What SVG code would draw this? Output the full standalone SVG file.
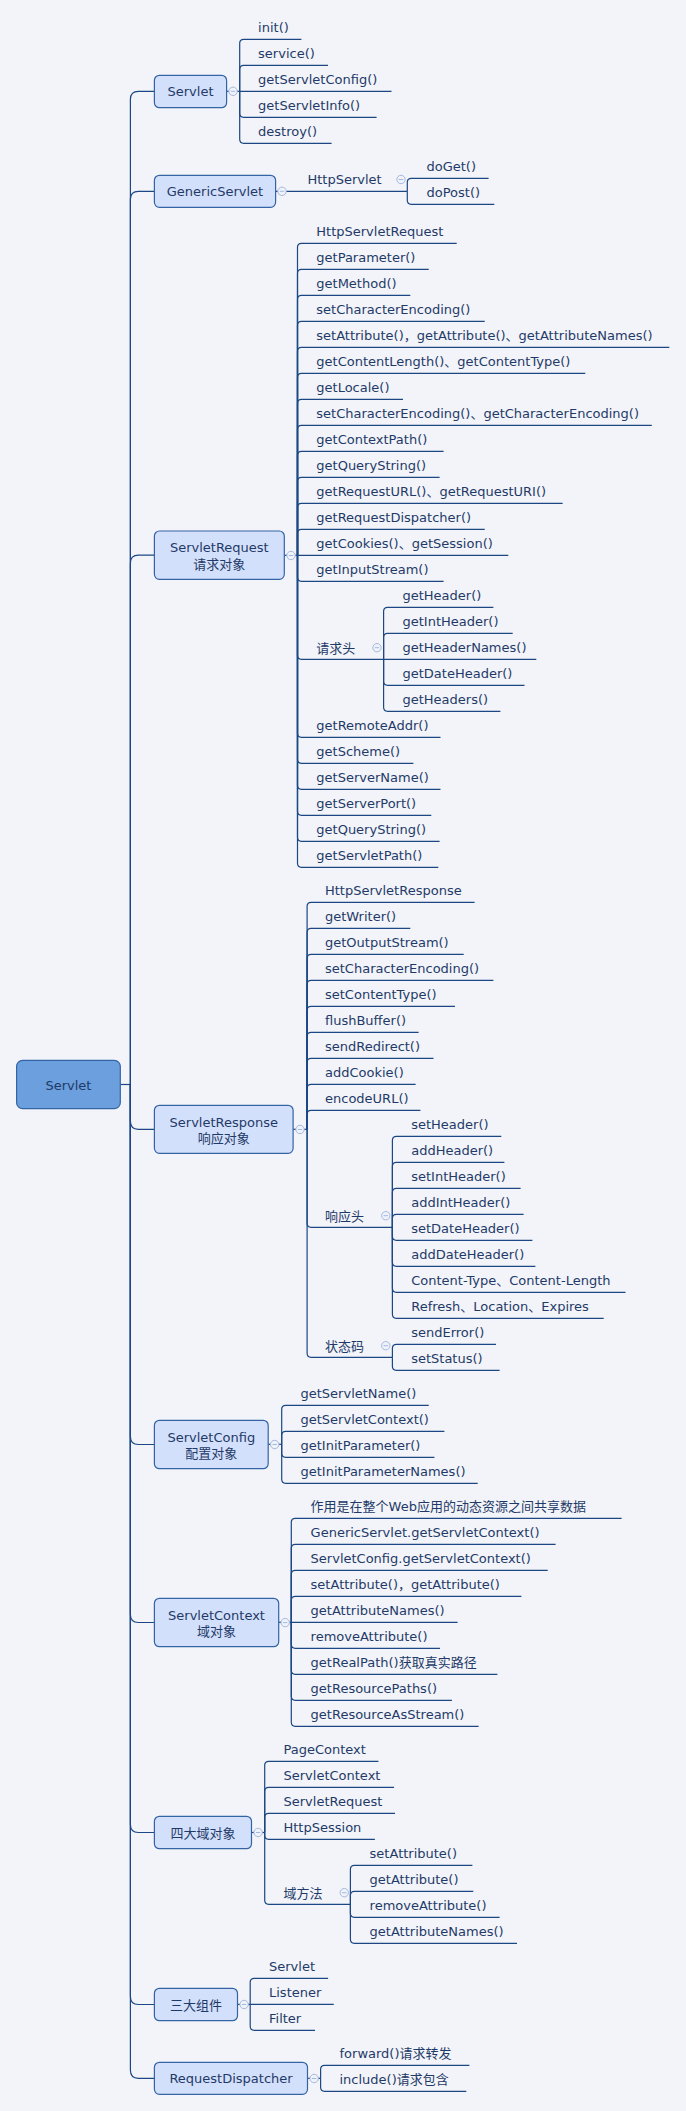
<svg xmlns="http://www.w3.org/2000/svg" width="686" height="2111" viewBox="0 0 686 2111">
<defs>
<style>
.t{font-family:"DejaVu Sans","Noto Sans CJK SC",sans-serif;font-size:13px;fill:#1f3a68}
.m{text-anchor:middle}
.c{fill:none;stroke:#1c4784;stroke-width:1.2}
.box{fill:#d3e0fb;stroke:#3464a4;stroke-width:1.2}
.root{fill:#6b9fdd;stroke:#3464a4;stroke-width:1.2}
</style>
<g id="col"><circle r="4.2" fill="#eef2fb" stroke="#a8b8dc" stroke-width="1"/><line x1="-2.2" x2="2.2" y1="0" y2="0" stroke="#a8b8dc" stroke-width="1"/></g>
</defs>
<rect width="686" height="2111" fill="#f2f4f9"/>
<g id="connectors">
<path class="c" d="M120.3,1084.5 H130.4"/>
<path class="c" d="M130.4,1084.5 V99.3 Q130.4,91.3 138.4,91.3 H154.4"/>
<path class="c" d="M130.4,1084.5 V199.3 Q130.4,191.3 138.4,191.3 H154.4"/>
<path class="c" d="M130.4,1084.5 V563.2 Q130.4,555.2 138.4,555.2 H154.4"/>
<path class="c" d="M130.4,1084.5 V1121.3 Q130.4,1129.3 138.4,1129.3 H154.4"/>
<path class="c" d="M130.4,1084.5 V1436.5 Q130.4,1444.5 138.4,1444.5 H154.4"/>
<path class="c" d="M130.4,1084.5 V1614.5 Q130.4,1622.5 138.4,1622.5 H154.4"/>
<path class="c" d="M130.4,1084.5 V1824.5 Q130.4,1832.5 138.4,1832.5 H154.4"/>
<path class="c" d="M130.4,1084.5 V1996.5 Q130.4,2004.5 138.4,2004.5 H154.4"/>
<path class="c" d="M130.4,1084.5 V2070.3 Q130.4,2078.3 138.4,2078.3 H154.4"/>
<!-- Servlet -->
<path class="c" d="M226.6,91.3 H239.7"/>
<path class="c" d="M239.7,91.3 V43.3 Q239.7,39.3 243.7,39.3 H301.4"/>
<path class="c" d="M239.7,91.3 V69.3 Q239.7,65.3 243.7,65.3 H328"/>
<path class="c" d="M239.7,91.3 H391.5"/>
<path class="c" d="M239.7,91.3 V113.3 Q239.7,117.3 243.7,117.3 H376.6"/>
<path class="c" d="M239.7,91.3 V139.3 Q239.7,143.3 243.7,143.3 H331.6"/>
<!-- GenericServlet -->
<path class="c" d="M275.6,191.3 H407.3"/>
<path class="c" d="M407.3,191.3 V182.3 Q407.3,178.3 411.3,178.3 H488.6"/>
<path class="c" d="M407.3,191.3 V200.3 Q407.3,204.3 411.3,204.3 H494.3"/>
<!-- ServletRequest -->
<path class="c" d="M284.3,555.3 H297.5"/>
<path class="c" d="M297.5,555.3 V247.3 Q297.5,243.3 301.5,243.3 H456.7"/>
<path class="c" d="M297.5,555.3 V273.3 Q297.5,269.3 301.5,269.3 H428.7"/>
<path class="c" d="M297.5,555.3 V299.3 Q297.5,295.3 301.5,295.3 H410.3"/>
<path class="c" d="M297.5,555.3 V325.3 Q297.5,321.3 301.5,321.3 H484.7"/>
<path class="c" d="M297.5,555.3 V351.3 Q297.5,347.3 301.5,347.3 H669.3"/>
<path class="c" d="M297.5,555.3 V377.3 Q297.5,373.3 301.5,373.3 H585.3"/>
<path class="c" d="M297.5,555.3 V403.3 Q297.5,399.3 301.5,399.3 H403"/>
<path class="c" d="M297.5,555.3 V429.3 Q297.5,425.3 301.5,425.3 H651.8"/>
<path class="c" d="M297.5,555.3 V455.3 Q297.5,451.3 301.5,451.3 H443.6"/>
<path class="c" d="M297.5,555.3 V481.3 Q297.5,477.3 301.5,477.3 H439.6"/>
<path class="c" d="M297.5,555.3 V507.3 Q297.5,503.3 301.5,503.3 H562.6"/>
<path class="c" d="M297.5,555.3 V533.3 Q297.5,529.3 301.5,529.3 H484.7"/>
<path class="c" d="M297.5,555.3 H508.3"/>
<path class="c" d="M297.5,555.3 V577.3 Q297.5,581.3 301.5,581.3 H443.6"/>
<path class="c" d="M297.5,555.3 V655.3 Q297.5,659.3 301.5,659.3 H383.6"/>
<path class="c" d="M297.5,555.3 V733.3 Q297.5,737.3 301.5,737.3 H440.5"/>
<path class="c" d="M297.5,555.3 V759.3 Q297.5,763.3 301.5,763.3 H413.4"/>
<path class="c" d="M297.5,555.3 V785.3 Q297.5,789.3 301.5,789.3 H440.5"/>
<path class="c" d="M297.5,555.3 V811.3 Q297.5,815.3 301.5,815.3 H431.3"/>
<path class="c" d="M297.5,555.3 V837.3 Q297.5,841.3 301.5,841.3 H439.6"/>
<path class="c" d="M297.5,555.3 V863.3 Q297.5,867.3 301.5,867.3 H438.3"/>
<path class="c" d="M383.6,659.3 V611.3 Q383.6,607.3 387.6,607.3 H493.4"/>
<path class="c" d="M383.6,659.3 V637.3 Q383.6,633.3 387.6,633.3 H512.7"/>
<path class="c" d="M383.6,659.3 H536.3"/>
<path class="c" d="M383.6,659.3 V681.3 Q383.6,685.3 387.6,685.3 H524.5"/>
<path class="c" d="M383.6,659.3 V707.3 Q383.6,711.3 387.6,711.3 H500.4"/>
<!-- ServletResponse -->
<path class="c" d="M293.1,1129.3 H307.1"/>
<path class="c" d="M307.1,1129.3 V906.3 Q307.1,902.3 311.1,902.3 H474.6"/>
<path class="c" d="M307.1,1129.3 V932.3 Q307.1,928.3 311.1,928.3 H410.3"/>
<path class="c" d="M307.1,1129.3 V958.3 Q307.1,954.3 311.1,954.3 H463.7"/>
<path class="c" d="M307.1,1129.3 V984.3 Q307.1,980.3 311.1,980.3 H493.4"/>
<path class="c" d="M307.1,1129.3 V1010.3 Q307.1,1006.3 311.1,1006.3 H455"/>
<path class="c" d="M307.1,1129.3 V1036.3 Q307.1,1032.3 311.1,1032.3 H418.6"/>
<path class="c" d="M307.1,1129.3 V1062.3 Q307.1,1058.3 311.1,1058.3 H433.5"/>
<path class="c" d="M307.1,1129.3 V1088.3 Q307.1,1084.3 311.1,1084.3 H415.6"/>
<path class="c" d="M307.1,1129.3 V1114.3 Q307.1,1110.3 311.1,1110.3 H420.4"/>
<path class="c" d="M307.1,1129.3 V1223.3 Q307.1,1227.3 311.1,1227.3 H392.4"/>
<path class="c" d="M307.1,1129.3 V1353.3 Q307.1,1357.3 311.1,1357.3 H392.4"/>
<path class="c" d="M392.4,1227.3 V1140.3 Q392.4,1136.3 396.4,1136.3 H501.3"/>
<path class="c" d="M392.4,1227.3 V1166.3 Q392.4,1162.3 396.4,1162.3 H504.4"/>
<path class="c" d="M392.4,1227.3 V1192.3 Q392.4,1188.3 396.4,1188.3 H520.6"/>
<path class="c" d="M392.4,1227.3 V1218.3 Q392.4,1214.3 396.4,1214.3 H523.6"/>
<path class="c" d="M392.4,1227.3 V1236.3 Q392.4,1240.3 396.4,1240.3 H532.4"/>
<path class="c" d="M392.4,1227.3 V1262.3 Q392.4,1266.3 396.4,1266.3 H535.4"/>
<path class="c" d="M392.4,1227.3 V1288.3 Q392.4,1292.3 396.4,1292.3 H625.5"/>
<path class="c" d="M392.4,1227.3 V1314.3 Q392.4,1318.3 396.4,1318.3 H603.7"/>
<path class="c" d="M392.4,1357.3 V1348.3 Q392.4,1344.3 396.4,1344.3 H496"/>
<path class="c" d="M392.4,1357.3 V1366.3 Q392.4,1370.3 396.4,1370.3 H499.6"/>
<!-- ServletConfig -->
<path class="c" d="M268.2,1444.3 H281.7"/>
<path class="c" d="M281.7,1444.3 V1409.3 Q281.7,1405.3 285.7,1405.3 H428.7"/>
<path class="c" d="M281.7,1444.3 V1435.3 Q281.7,1431.3 285.7,1431.3 H444.4"/>
<path class="c" d="M281.7,1444.3 V1453.3 Q281.7,1457.3 285.7,1457.3 H434.4"/>
<path class="c" d="M281.7,1444.3 V1479.3 Q281.7,1483.3 285.7,1483.3 H477.7"/>
<!-- ServletContext -->
<path class="c" d="M278.7,1622.3 H291.3"/>
<path class="c" d="M291.3,1622.3 V1522.3 Q291.3,1518.3 295.3,1518.3 H621.6"/>
<path class="c" d="M291.3,1622.3 V1548.3 Q291.3,1544.3 295.3,1544.3 H555.6"/>
<path class="c" d="M291.3,1622.3 V1574.3 Q291.3,1570.3 295.3,1570.3 H547.7"/>
<path class="c" d="M291.3,1622.3 V1600.3 Q291.3,1596.3 295.3,1596.3 H521.4"/>
<path class="c" d="M291.3,1622.3 H457.6"/>
<path class="c" d="M291.3,1622.3 V1644.3 Q291.3,1648.3 295.3,1648.3 H440"/>
<path class="c" d="M291.3,1622.3 V1670.3 Q291.3,1674.3 295.3,1674.3 H497.4"/>
<path class="c" d="M291.3,1622.3 V1696.3 Q291.3,1700.3 295.3,1700.3 H451.9"/>
<path class="c" d="M291.3,1622.3 V1722.3 Q291.3,1726.3 295.3,1726.3 H478.6"/>
<!-- 四大域对象 -->
<path class="c" d="M251.5,1832.5 H264.7"/>
<path class="c" d="M264.7,1832.5 V1765.3 Q264.7,1761.3 268.7,1761.3 H378.4"/>
<path class="c" d="M264.7,1832.5 V1791.3 Q264.7,1787.3 268.7,1787.3 H394.1"/>
<path class="c" d="M264.7,1832.5 V1817.3 Q264.7,1813.3 268.7,1813.3 H395"/>
<path class="c" d="M264.7,1832.5 V1835.3 Q264.7,1839.3 268.7,1839.3 H374.9"/>
<path class="c" d="M264.7,1832.5 V1900.3 Q264.7,1904.3 268.7,1904.3 H350.4"/>
<path class="c" d="M350.4,1904.3 V1869.3 Q350.4,1865.3 354.4,1865.3 H472.4"/>
<path class="c" d="M350.4,1904.3 V1895.3 Q350.4,1891.3 354.4,1891.3 H473.3"/>
<path class="c" d="M350.4,1904.3 V1913.3 Q350.4,1917.3 354.4,1917.3 H499.6"/>
<path class="c" d="M350.4,1904.3 V1939.3 Q350.4,1943.3 354.4,1943.3 H517"/>
<!-- 三大组件 -->
<path class="c" d="M237.5,2004.4 H250.2"/>
<path class="c" d="M250.2,2004.3 V1982.3 Q250.2,1978.3 254.2,1978.3 H328.1"/>
<path class="c" d="M250.2,2004.3 H333.8"/>
<path class="c" d="M250.2,2004.3 V2026.3 Q250.2,2030.3 254.2,2030.3 H315"/>
<!-- RequestDispatcher -->
<path class="c" d="M307.5,2078.3 H320.6"/>
<path class="c" d="M320.6,2078.3 V2069.3 Q320.6,2065.3 324.6,2065.3 H469.4"/>
<path class="c" d="M320.6,2078.3 V2087.3 Q320.6,2091.3 324.6,2091.3 H466.3"/>
</g>
<g id="root">
<rect class="root" x="16.6" y="1060.3" width="103.7" height="48.4" rx="6"/>
<text class="t m" x="68.4" y="1089.5">Servlet</text>
</g>
<g id="n-servlet">
<rect class="box" x="154.4" y="75.3" width="72.2" height="32.4" rx="5"/>
<text class="t m" x="190.5" y="96.2">Servlet</text>
<use href="#col" x="233" y="91.3"/>
<text class="t" x="258.1" y="32.3">init()</text>
<text class="t" x="258.1" y="58.3">service()</text>
<text class="t" x="258.1" y="84.3">getServletConfig()</text>
<text class="t" x="258.1" y="110.3">getServletInfo()</text>
<text class="t" x="258.1" y="136.3">destroy()</text>
</g>
<g id="n-generic">
<rect class="box" x="154.4" y="175.3" width="121.2" height="32" rx="5"/>
<text class="t m" x="215" y="196.1">GenericServlet</text>
<use href="#col" x="282" y="191.3"/>
<text class="t" x="307.5" y="184.3">HttpServlet</text>
<use href="#col" x="401" y="179.5"/>
<text class="t" x="426.5" y="171.3">doGet()</text>
<text class="t" x="426.5" y="197.3">doPost()</text>
</g>
<g id="n-request">
<rect class="box" x="154.4" y="531" width="129.9" height="48.3" rx="5"/>
<text class="t m" x="219.3" y="552.2">ServletRequest</text>
<text class="t m" x="219.3" y="568.6">请求对象</text>
<use href="#col" x="291" y="555.5"/>
<text class="t" x="316.3" y="236.3">HttpServletRequest</text>
<text class="t" x="316.3" y="262.3">getParameter()</text>
<text class="t" x="316.3" y="288.3">getMethod()</text>
<text class="t" x="316.3" y="314.3">setCharacterEncoding()</text>
<text class="t" x="316.3" y="340.3">setAttribute()，getAttribute()、getAttributeNames()</text>
<text class="t" x="316.3" y="366.3">getContentLength()、getContentType()</text>
<text class="t" x="316.3" y="392.3">getLocale()</text>
<text class="t" x="316.3" y="418.3">setCharacterEncoding()、getCharacterEncoding()</text>
<text class="t" x="316.3" y="444.3">getContextPath()</text>
<text class="t" x="316.3" y="470.3">getQueryString()</text>
<text class="t" x="316.3" y="496.3">getRequestURL()、getRequestURI()</text>
<text class="t" x="316.3" y="522.3">getRequestDispatcher()</text>
<text class="t" x="316.3" y="548.3">getCookies()、getSession()</text>
<text class="t" x="316.3" y="574.3">getInputStream()</text>
<text class="t" x="316.3" y="652.8">请求头</text>
<use href="#col" x="377" y="647.7"/>
<text class="t" x="402.5" y="600.3">getHeader()</text>
<text class="t" x="402.5" y="626.3">getIntHeader()</text>
<text class="t" x="402.5" y="652.3">getHeaderNames()</text>
<text class="t" x="402.5" y="678.3">getDateHeader()</text>
<text class="t" x="402.5" y="704.3">getHeaders()</text>
<text class="t" x="316.3" y="730.3">getRemoteAddr()</text>
<text class="t" x="316.3" y="756.3">getScheme()</text>
<text class="t" x="316.3" y="782.3">getServerName()</text>
<text class="t" x="316.3" y="808.3">getServerPort()</text>
<text class="t" x="316.3" y="834.3">getQueryString()</text>
<text class="t" x="316.3" y="860.3">getServletPath()</text>
</g>
<g id="n-response">
<rect class="box" x="154.4" y="1105.3" width="138.7" height="48" rx="5"/>
<text class="t m" x="223.8" y="1126.6">ServletResponse</text>
<text class="t m" x="223.8" y="1143">响应对象</text>
<use href="#col" x="300" y="1129.5"/>
<text class="t" x="325" y="895.3">HttpServletResponse</text>
<text class="t" x="325" y="921.3">getWriter()</text>
<text class="t" x="325" y="947.3">getOutputStream()</text>
<text class="t" x="325" y="973.3">setCharacterEncoding()</text>
<text class="t" x="325" y="999.3">setContentType()</text>
<text class="t" x="325" y="1025.3">flushBuffer()</text>
<text class="t" x="325" y="1051.3">sendRedirect()</text>
<text class="t" x="325" y="1077.3">addCookie()</text>
<text class="t" x="325" y="1103.3">encodeURL()</text>
<text class="t" x="325" y="1220.8">响应头</text>
<use href="#col" x="385.8" y="1215.7"/>
<text class="t" x="411.2" y="1129.3">setHeader()</text>
<text class="t" x="411.2" y="1155.3">addHeader()</text>
<text class="t" x="411.2" y="1181.3">setIntHeader()</text>
<text class="t" x="411.2" y="1207.3">addIntHeader()</text>
<text class="t" x="411.2" y="1233.3">setDateHeader()</text>
<text class="t" x="411.2" y="1259.3">addDateHeader()</text>
<text class="t" x="411.2" y="1285.3">Content-Type、Content-Length</text>
<text class="t" x="411.2" y="1311.3">Refresh、Location、Expires</text>
<text class="t" x="325" y="1350.8">状态码</text>
<use href="#col" x="385.8" y="1345.7"/>
<text class="t" x="411.2" y="1337.3">sendError()</text>
<text class="t" x="411.2" y="1363.3">setStatus()</text>
</g>
<g id="n-config">
<rect class="box" x="154.4" y="1420.3" width="113.8" height="48.4" rx="5"/>
<text class="t m" x="211.3" y="1441.6">ServletConfig</text>
<text class="t m" x="211.3" y="1458">配置对象</text>
<use href="#col" x="274.7" y="1444.5"/>
<text class="t" x="300.5" y="1398.3">getServletName()</text>
<text class="t" x="300.5" y="1424.3">getServletContext()</text>
<text class="t" x="300.5" y="1450.3">getInitParameter()</text>
<text class="t" x="300.5" y="1476.3">getInitParameterNames()</text>
</g>
<g id="n-context">
<rect class="box" x="154.4" y="1598.3" width="124.3" height="48.4" rx="5"/>
<text class="t m" x="216.5" y="1619.6">ServletContext</text>
<text class="t m" x="216.5" y="1636">域对象</text>
<use href="#col" x="285.2" y="1622.6"/>
<text class="t" x="310.6" y="1511.3">作用是在整个Web应用的动态资源之间共享数据</text>
<text class="t" x="310.6" y="1537.3">GenericServlet.getServletContext()</text>
<text class="t" x="310.6" y="1563.3">ServletConfig.getServletContext()</text>
<text class="t" x="310.6" y="1589.3">setAttribute()，getAttribute()</text>
<text class="t" x="310.6" y="1615.3">getAttributeNames()</text>
<text class="t" x="310.6" y="1641.3">removeAttribute()</text>
<text class="t" x="310.6" y="1667.3">getRealPath()获取真实路径</text>
<text class="t" x="310.6" y="1693.3">getResourcePaths()</text>
<text class="t" x="310.6" y="1719.3">getResourceAsStream()</text>
</g>
<g id="n-scopes">
<rect class="box" x="154.4" y="1816.3" width="97.1" height="32.4" rx="5"/>
<text class="t m" x="203" y="1837.5">四大域对象</text>
<use href="#col" x="258.1" y="1832.5"/>
<text class="t" x="283.5" y="1754.3">PageContext</text>
<text class="t" x="283.5" y="1780.3">ServletContext</text>
<text class="t" x="283.5" y="1806.3">ServletRequest</text>
<text class="t" x="283.5" y="1832.3">HttpSession</text>
<text class="t" x="283.5" y="1897.8">域方法</text>
<use href="#col" x="344.3" y="1892.7"/>
<text class="t" x="369.6" y="1858.3">setAttribute()</text>
<text class="t" x="369.6" y="1884.3">getAttribute()</text>
<text class="t" x="369.6" y="1910.3">removeAttribute()</text>
<text class="t" x="369.6" y="1936.3">getAttributeNames()</text>
</g>
<g id="n-components">
<rect class="box" x="154.4" y="1988.3" width="83.1" height="32.4" rx="5"/>
<text class="t m" x="196" y="2009.5">三大组件</text>
<use href="#col" x="244.1" y="2004.5"/>
<text class="t" x="269" y="1971.3">Servlet</text>
<text class="t" x="269" y="1997.3">Listener</text>
<text class="t" x="269" y="2023.3">Filter</text>
</g>
<g id="n-dispatcher">
<rect class="box" x="154.4" y="2062.3" width="153.1" height="32" rx="5"/>
<text class="t m" x="231" y="2083">RequestDispatcher</text>
<use href="#col" x="314.1" y="2078.5"/>
<text class="t" x="339.5" y="2058.3">forward()请求转发</text>
<text class="t" x="339.5" y="2084.3">include()请求包含</text>
</g>
</svg>
